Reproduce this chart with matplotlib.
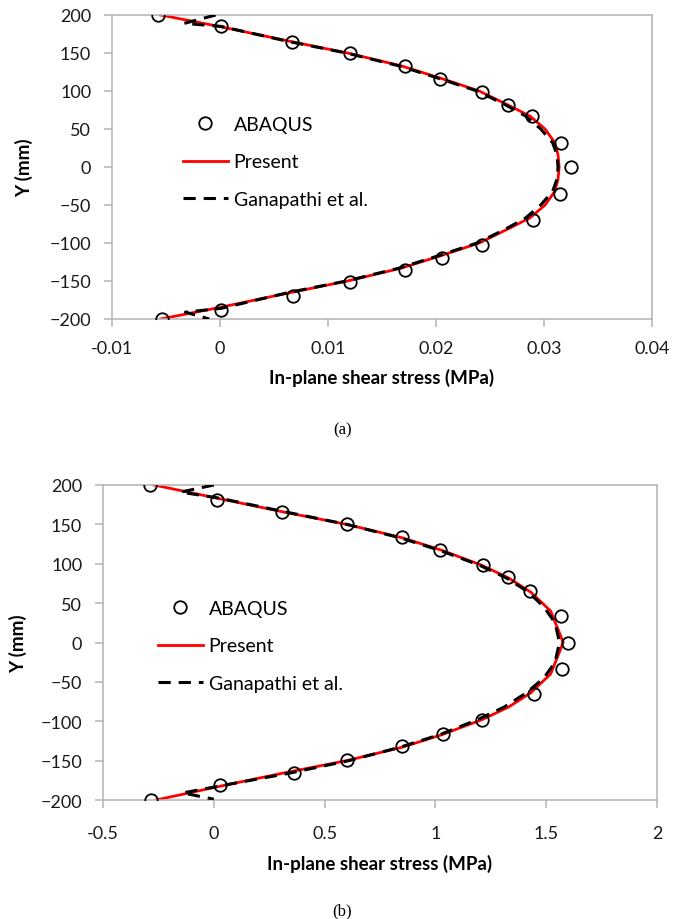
import numpy as np
import matplotlib
matplotlib.use("Agg")
import matplotlib.pyplot as plt

plt.rcParams['font.family'] = ['Lato', 'DejaVu Sans']

# ---- panel (a) ----
abq_a_y = [200, 185, 164, 150, 133, 116, 99, 82, 67, 32, 0, -35, -70, -103, -120, -135, -151, -170, -188, -200]
abq_a_x = [-0.0057, 0.0001, 0.0067, 0.0120, 0.0171, 0.0204, 0.0243, 0.0267, 0.0289, 0.0316, 0.0325,
           0.0315, 0.0290, 0.0243, 0.0206, 0.0171, 0.0120, 0.0068, 0.0001, -0.0054]

pres_a_y = [200, 185, 165, 150, 133, 116, 100, 82, 67, 50, 32, 16, 0,
            -16, -32, -50, -67, -82, -100, -116, -133, -150, -165, -185, -200]
pres_a_x = [-0.0055, -0.0001, 0.0066, 0.0118, 0.0168, 0.0206, 0.0240, 0.0266, 0.0287, 0.0301, 0.0310, 0.0313, 0.0314,
            0.0313, 0.0310, 0.0301, 0.0287, 0.0266, 0.0240, 0.0206, 0.0168, 0.0118, 0.0066, -0.0001, -0.0055]

gan_a_y = [200, 189, 185, 165, 150, 133, 116, 100, 82, 67, 50, 32, 16, 0,
           -16, -32, -50, -67, -82, -100, -116, -133, -150, -165, -186, -191, -200]
gan_a_x = [-0.0004, -0.0033, 0.0001, 0.0064, 0.0117, 0.0166, 0.0204, 0.0238, 0.0264, 0.0283, 0.0297, 0.0308, 0.0312, 0.0313,
           0.0312, 0.0308, 0.0297, 0.0283, 0.0264, 0.0238, 0.0204, 0.0166, 0.0117, 0.0064, 0.0001, -0.0032, -0.0010]

# ---- panel (b) ----
abq_b_y = [200, 181, 166, 150, 134, 117, 98, 83, 65, 34, 0, -34, -65, -98, -116, -131, -149, -166, -181, -200]
abq_b_x = [-0.288, 0.014, 0.306, 0.599, 0.851, 1.023, 1.216, 1.329, 1.428, 1.568, 1.599,
           1.572, 1.446, 1.212, 1.036, 0.851, 0.603, 0.360, 0.027, -0.284]

pres_b_y = [200, 183, 166, 150, 133, 117, 98, 82, 64, 40, 0, -40, -64, -82, -98, -117, -133, -150, -166, -183, -200]
pres_b_x = [-0.27, 0.02, 0.31, 0.60, 0.85, 1.03, 1.21, 1.33, 1.43, 1.52, 1.577,
            1.52, 1.43, 1.33, 1.21, 1.03, 0.85, 0.60, 0.31, 0.02, -0.26]

gan_b_y = [200, 191, 183, 166, 150, 133, 117, 98, 82, 64, 45, 25, 0,
           -25, -45, -64, -82, -98, -117, -133, -150, -166, -181, -191, -199]
gan_b_x = [0.0, -0.15, 0.03, 0.32, 0.60, 0.84, 1.02, 1.20, 1.32, 1.42, 1.49, 1.54, 1.56,
           1.54, 1.49, 1.41, 1.31, 1.19, 1.02, 0.84, 0.61, 0.34, 0.05, -0.14, 0.0]

xticks_a = [-0.01, 0, 0.01, 0.02, 0.03, 0.04]
xlabels_a = ['-0.01', '0', '0.01', '0.02', '0.03', '0.04']
xticks_b = [-0.5, 0, 0.5, 1, 1.5, 2]
xlabels_b = ['-0.5', '0', '0.5', '1', '1.5', '2']
yticks = [200, 150, 100, 50, 0, -50, -100, -150, -200]

W, H = 689, 920
fig = plt.figure(figsize=(W / 100, H / 100), dpi=100)

def px_axes(l, t, r, b):
    return fig.add_axes([l / W, 1 - b / H, (r - l) / W, (b - t) / H])

ax1 = px_axes(112, 16, 652, 320)
ax2 = px_axes(103, 486, 657, 801)

gray = '#b3b3b3'

def draw(ax, ax_, ay, px_, py, gx, gy, xt, xl, xlim, ylab_x, leg_x, leg_y, xpad):
    ax.plot(px_, py, color='red', lw=2.0, zorder=2, label='Present')
    ax.plot(gx, gy, color='black', lw=2.2, dashes=(4, 2.6), zorder=3, label='Ganapathi et al.')
    ax.plot(ax_, ay, 'o', ms=9, mfc='none', mec='black', mew=1.3, zorder=4, label='ABAQUS')
    ax.set_xlim(*xlim)
    ax.set_ylim(-200, 200)
    ax.set_xticks(xt)
    ax.set_xticklabels(xl)
    ax.set_yticks(yticks)
    for s in ax.spines.values():
        s.set_color(gray)
        s.set_linewidth(1.1)
    ax.tick_params(direction='out', length=6, width=1.1, color=gray,
                   labelsize=13, labelcolor='#1a1a1a', pad=9)
    ax.tick_params(axis='x', pad=xpad)
    ax.set_xlabel('In-plane shear stress (MPa)', fontsize=13.5, fontweight='bold', labelpad=9)
    ax.set_ylabel('Y (mm)', fontsize=13.5, fontweight='bold')
    ax.yaxis.set_label_coords(ylab_x, 0.5)
    h, l = ax.get_legend_handles_labels()
    order = [2, 0, 1]
    ax.legend([h[i] for i in order], [l[i] for i in order], loc='center left',
              bbox_to_anchor=(leg_x, leg_y), frameon=False, fontsize=14,
              handlelength=2.3, handletextpad=0.3, labelspacing=1.05,
              borderpad=0, borderaxespad=0)

draw(ax1, abq_a_x, abq_a_y, pres_a_x, pres_a_y, gan_a_x, gan_a_y,
     xticks_a, xlabels_a, (-0.01, 0.04), (33 - 112) / 540, (183 - 112) / 540, (320 - 163) / 304, 9)
draw(ax2, abq_b_x, abq_b_y, pres_b_x, pres_b_y, gan_b_x, gan_b_y,
     xticks_b, xlabels_b, (-0.5, 2), (27 - 103) / 554, (158 - 103) / 554, (801 - 647) / 315, 12)

fig.text(343 / W, 1 - 430 / H, '(a)', family='Liberation Serif', fontsize=12, ha='center', va='center')
fig.text(342 / W, 1 - 911 / H, '(b)', family='Liberation Serif', fontsize=12, ha='center', va='center')

fig.savefig('out.png', dpi=100)
